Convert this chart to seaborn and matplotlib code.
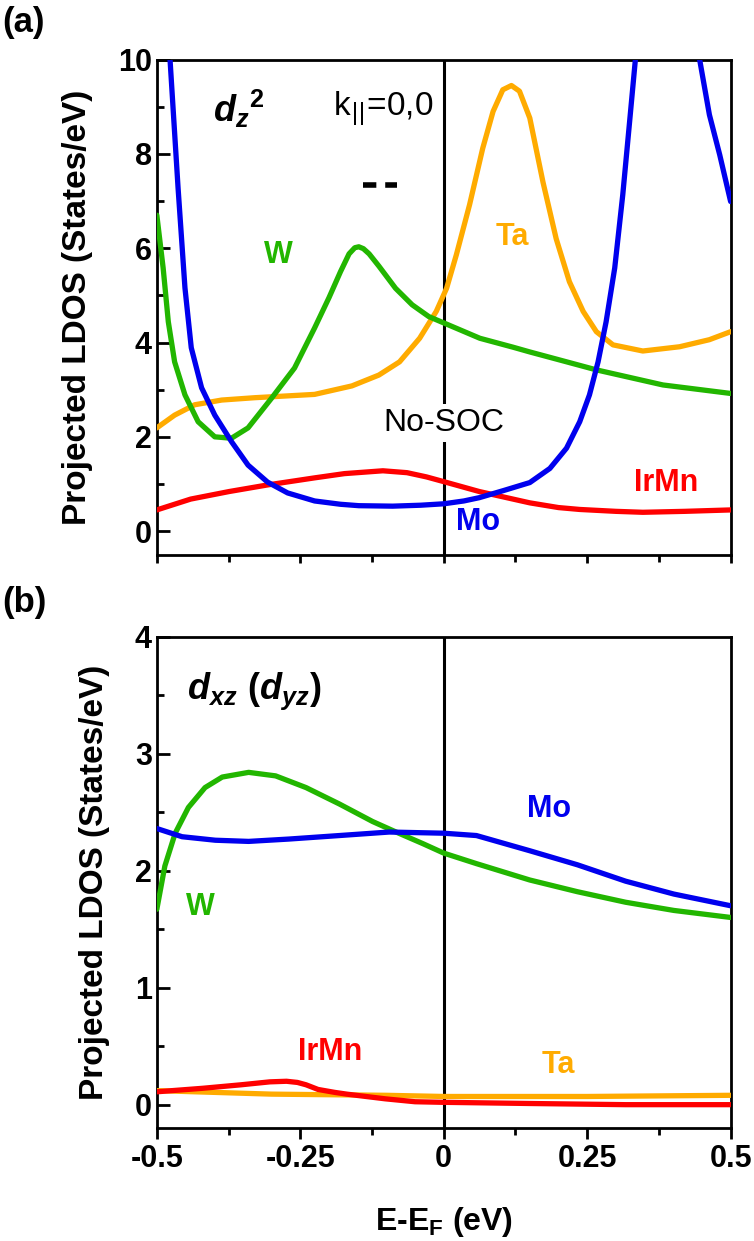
import numpy as np
import pandas as pd
import matplotlib.pyplot as plt
import seaborn as sns
from matplotlib.ticker import MultipleLocator

# ---- panel (a): d_z^2 ----
a_mo_x = [-0.5, -0.477, -0.463, -0.451, -0.44, -0.422, -0.399, -0.37, -0.341, -0.307, -0.272,
          -0.225, -0.18, -0.148, -0.089, -0.04, 0.0, 0.035, 0.062, 0.104, 0.15, 0.185, 0.214,
          0.237, 0.254, 0.269, 0.283, 0.298, 0.312, 0.324, 0.334, 0.345, 0.39, 0.432, 0.446,
          0.463, 0.481, 0.5]
a_mo_y = [14.4, 10.0, 7.28, 5.16, 3.89, 3.04, 2.46, 1.9, 1.4, 1.04, 0.81,
          0.64, 0.57, 0.54, 0.53, 0.55, 0.58, 0.64, 0.71, 0.86, 1.03, 1.33, 1.76,
          2.32, 2.89, 3.59, 4.44, 5.58, 7.13, 8.69, 10.0, 11.4, 13.0, 11.0, 10.0,
          8.83, 7.98, 6.99]

a_w_x = [-0.5, -0.489, -0.48, -0.469, -0.451, -0.428, -0.399, -0.37, -0.341, -0.3, -0.26,
         -0.225, -0.2, -0.18, -0.165, -0.155, -0.148, -0.14, -0.13, -0.113, -0.084, -0.055,
         -0.026, 0.005, 0.063, 0.121, 0.15, 0.202, 0.266, 0.382, 0.5]
a_w_y = [6.7, 5.58, 4.44, 3.59, 2.89, 2.32, 2.0, 1.97, 2.19, 2.82, 3.46,
         4.31, 4.95, 5.5, 5.88, 6.01, 6.03, 5.99, 5.88, 5.62, 5.15, 4.8,
         4.55, 4.39, 4.09, 3.9, 3.8, 3.63, 3.42, 3.1, 2.92]

a_ta_x = [-0.5, -0.469, -0.434, -0.387, -0.329, -0.225, -0.16, -0.113, -0.077, -0.042, -0.013,
          0.005, 0.022, 0.045, 0.068, 0.086, 0.103, 0.118, 0.132, 0.15, 0.173, 0.196, 0.219,
          0.243, 0.266, 0.295, 0.347, 0.411, 0.463, 0.5]
a_ta_y = [2.19, 2.46, 2.68, 2.78, 2.83, 2.9, 3.08, 3.31, 3.59, 4.09, 4.66,
          5.15, 5.86, 6.92, 8.12, 8.9, 9.36, 9.45, 9.33, 8.76, 7.4, 6.2, 5.29,
          4.66, 4.23, 3.95, 3.82, 3.91, 4.06, 4.23]

a_irmn_x = [-0.5, -0.441, -0.374, -0.307, -0.225, -0.173, -0.106, -0.064, -0.03, 0.0, 0.062,
            0.15, 0.2, 0.237, 0.3, 0.347, 0.42, 0.5]
a_irmn_y = [0.45, 0.68, 0.84, 0.98, 1.13, 1.22, 1.28, 1.24, 1.15, 1.05, 0.84,
            0.6, 0.5, 0.46, 0.42, 0.4, 0.42, 0.45]

# ---- panel (b): d_xz (d_yz) ----
b_w_x = [-0.5, -0.486, -0.468, -0.445, -0.416, -0.386, -0.34, -0.293, -0.24, -0.182, -0.124,
         -0.083, -0.036, 0.0, 0.057, 0.15, 0.233, 0.317, 0.401, 0.5]
b_w_y = [1.67, 2.04, 2.32, 2.54, 2.71, 2.8, 2.84, 2.81, 2.71, 2.57, 2.42,
         2.33, 2.23, 2.15, 2.06, 1.92, 1.82, 1.73, 1.66, 1.6]

b_mo_x = [-0.5, -0.456, -0.398, -0.34, -0.27, -0.182, -0.095, 0.0, 0.057, 0.15,
          0.233, 0.317, 0.401, 0.5]
b_mo_y = [2.36, 2.29, 2.26, 2.25, 2.27, 2.3, 2.33, 2.32, 2.3, 2.17,
          2.05, 1.91, 1.8, 1.7]

b_irmn_x = [-0.5, -0.42, -0.353, -0.303, -0.274, -0.255, -0.24, -0.219, -0.19, -0.169, -0.102,
            -0.05, 0.0, 0.15, 0.317, 0.5]
b_irmn_y = [0.11, 0.14, 0.17, 0.195, 0.2, 0.19, 0.17, 0.13, 0.105, 0.09, 0.05,
            0.025, 0.02, 0.01, 0.0, 0.0]

b_ta_x = [-0.5, -0.3, -0.1, 0.0, 0.25, 0.5]
b_ta_y = [0.12, 0.09, 0.08, 0.07, 0.07, 0.08]

colors = {'W': '#22b600', 'Mo': '#0000ee', 'Ta': '#ffab00', 'IrMn': '#ff0000'}

sns.set_style('ticks')
plt.rcParams['font.family'] = ['Liberation Sans', 'DejaVu Sans']
plt.rcParams['text.color'] = 'black'
plt.rcParams['axes.labelcolor'] = 'black'
plt.rcParams['xtick.color'] = 'black'
plt.rcParams['ytick.color'] = 'black'
plt.rcParams['axes.edgecolor'] = 'black'
plt.rcParams['mathtext.fontset'] = 'custom'
plt.rcParams['mathtext.rm'] = 'Liberation Sans:bold'
plt.rcParams['mathtext.it'] = 'Liberation Sans:bold:italic'
plt.rcParams['mathtext.bf'] = 'Liberation Sans:bold'

fig = plt.figure(figsize=(7.54, 12.41), dpi=100)
ax1 = fig.add_axes([0.208, 0.553, 0.761, 0.399])
ax2 = fig.add_axes([0.208, 0.091, 0.761, 0.396])

lw = 3.8
for ax, curves in [
    (ax1, [('Ta', a_ta_x, a_ta_y), ('W', a_w_x, a_w_y), ('IrMn', a_irmn_x, a_irmn_y), ('Mo', a_mo_x, a_mo_y)]),
    (ax2, [('W', b_w_x, b_w_y), ('Ta', b_ta_x, b_ta_y), ('IrMn', b_irmn_x, b_irmn_y), ('Mo', b_mo_x, b_mo_y)]),
]:
    ax.axvline(0, color='black', lw=2.2, zorder=1)
    for name, xs, ys in curves:
        sns.lineplot(x=xs, y=ys, ax=ax, color=colors[name], lw=lw, sort=False,
                     estimator=None, zorder=3, solid_joinstyle='round')

ax1.set_xlim(-0.5, 0.5)
ax1.set_ylim(-0.5, 10)
ax2.set_xlim(-0.5, 0.5)
ax2.set_ylim(-0.2, 4)

for ax in (ax1, ax2):
    for s in ax.spines.values():
        s.set_linewidth(2)
    ax.tick_params(axis='y', which='both', direction='in', width=2, labelsize=22)
    ax.tick_params(axis='y', which='major', length=9)
    ax.tick_params(axis='y', which='minor', length=5)
    ax.tick_params(axis='x', which='both', direction='out', width=2, labelsize=22)
    ax.tick_params(axis='x', which='major', length=8)
    ax.tick_params(axis='x', which='minor', length=5)
    ax.xaxis.set_major_locator(MultipleLocator(0.25))
    ax.xaxis.set_minor_locator(MultipleLocator(0.125))
    ax.set_ylabel('Projected LDOS (States/eV)', fontsize=24, fontweight='bold', labelpad=18)

ax1.yaxis.set_minor_locator(MultipleLocator(1))
ax1.set_yticks([0, 2, 4, 6, 8, 10])
ax1.set_yticklabels(['0', '2', '4', '6', '8', '10'], fontweight='bold', fontsize=22)
ax1.tick_params(axis='x', which='major', length=6)
ax1.set_xticklabels([])

ax2.yaxis.set_minor_locator(MultipleLocator(0.5))
ax2.set_yticks([0, 1, 2, 3, 4])
ax2.set_yticklabels(['0', '1', '2', '3', '4'], fontweight='bold', fontsize=22)
ax2.set_xticks([-0.5, -0.25, 0, 0.25, 0.5])
ax2.set_xticklabels(['-0.5', '-0.25', '0', '0.25', '0.5'], fontweight='bold', fontsize=22)
ax2.set_xlabel(r'E-E$_\mathregular{F}$ (eV)', fontsize=23, fontweight='bold', labelpad=22)

# annotations panel a
lab = dict(fontsize=22, fontweight='bold', ha='center', va='center')
ax1.text(-0.288, 5.85, 'W', color=colors['W'], **lab)
ax1.text(0.119, 6.24, 'Ta', color=colors['Ta'], **lab)
ax1.text(0.06, 0.2, 'Mo', color=colors['Mo'], **lab)
ax1.text(0.387, 1.02, 'IrMn', color=colors['IrMn'], **lab)
ax1.text(-0.357, 8.95, r'$\mathit{d_z}^{\mathbf{2}}$', fontsize=26, ha='center', va='center')
ax1.text(-0.106, 8.95, r'k$_{||}$=0,0', fontsize=24, ha='center', va='center',
         fontweight='normal', math_fontfamily='dejavusans')
ax1.plot([-0.141, -0.082], [7.35, 7.35], color='black', lw=4, ls=(0, (2.4, 1.6)))
ax1.text(0.0, 2.3, 'No-SOC', fontsize=23, ha='center', va='center', zorder=2,
         bbox=dict(facecolor='white', edgecolor='none', pad=3))

# annotations panel b
ax2.text(0.183, 2.53, 'Mo', color=colors['Mo'], **lab)
ax2.text(-0.425, 1.69, 'W', color=colors['W'], **lab)
ax2.text(-0.198, 0.45, 'IrMn', color=colors['IrMn'], **lab)
ax2.text(0.2, 0.34, 'Ta', color=colors['Ta'], **lab)
ax2.text(-0.33, 3.53, r'$\mathit{d_{xz}\ (d_{yz})}$', fontsize=26, ha='center', va='center')

fig.text(0.003, 0.995, '(a)', fontsize=25, fontweight='bold', ha='left', va='top')
fig.text(0.003, 0.528, '(b)', fontsize=25, fontweight='bold', ha='left', va='top')

fig.savefig('out.png', dpi=100)
